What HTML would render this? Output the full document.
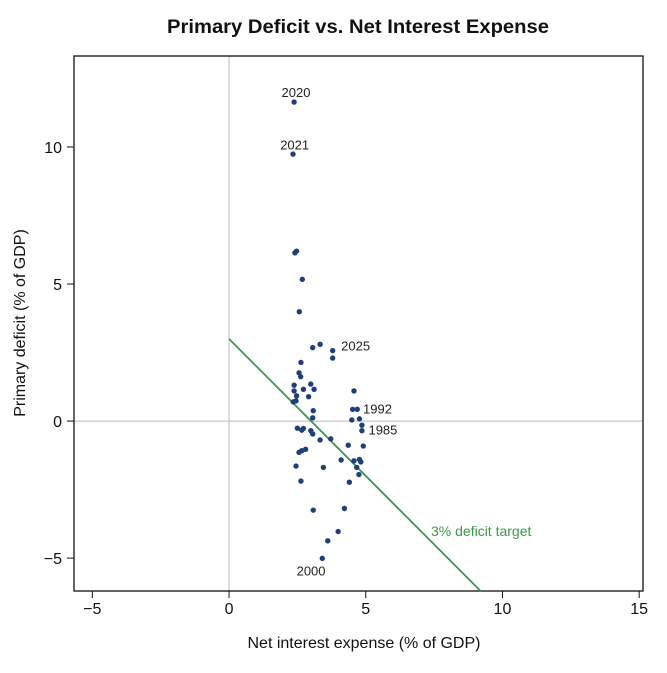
<!DOCTYPE html>
<html><head><meta charset="utf-8"><style>
body{margin:0;background:#fff;}
svg{display:block;font-family:"Liberation Sans",sans-serif;}
</style></head><body>
<svg id="chart" width="667" height="673">
<text x="167" y="33" textLength="382" lengthAdjust="spacingAndGlyphs" font-size="19" font-weight="bold" fill="#111">Primary Deficit vs. Net Interest Expense</text>
<g id="axes"></g>
<g id="marks"></g>
</svg>
<script>
const xs=[2.38,2.34,2.41,2.47,2.68,2.57,3.06,3.33,3.79,3.79,2.63,2.56,2.62,2.38,2.99,2.38,2.72,3.11,2.47,2.91,2.35,2.45,4.57,3.08,4.52,4.69,3.06,4.49,4.77,4.86,4.86,2.5,2.66,2.72,2.99,3.06,3.33,3.72,4.36,4.91,2.56,2.66,2.8,2.45,3.45,4.1,4.57,4.77,4.82,4.67,4.75,4.4,2.63,3.08,4.22,3.99,3.61,3.41];
const ys=[11.64,9.74,6.14,6.2,5.17,3.99,2.68,2.8,2.57,2.3,2.14,1.76,1.62,1.31,1.35,1.1,1.16,1.16,0.92,0.89,0.7,0.74,1.1,0.38,0.43,0.43,0.12,0.04,0.08,-0.15,-0.35,-0.26,-0.33,-0.27,-0.35,-0.47,-0.69,-0.65,-0.88,-0.91,-1.14,-1.08,-1.03,-1.64,-1.69,-1.42,-1.45,-1.4,-1.49,-1.69,-1.95,-2.23,-2.19,-3.25,-3.19,-4.03,-4.37,-5.01];
const labelTexts=["2020","2021","2025","1992","1985","2000"];
const labelX=[2.45,2.4,4.1,4.9,5.1,3.0];
const labelY=[12.0,10.1,2.75,0.45,-0.3,-5.45];
const xTicks=[-5,0,5,10,15];
const yTicks=[-5,0,5,10];
const targetLine=[[0,3],[9.2,-6.2]];
const L=74,R=643,T=56,B=591;
const X0=-5.67,X1=15.14,Y0=-6.2,Y1=13.32;
const sx=v=>L+(v-X0)/(X1-X0)*(R-L);
const sy=v=>B-(v-Y0)/(Y1-Y0)*(B-T);
const NS="http://www.w3.org/2000/svg";
function mk(t,a,p){const e=document.createElementNS(NS,t);for(const k in a)e.setAttribute(k,a[k]);p.appendChild(e);return e;}
const ax=document.getElementById('axes'),mg=document.getElementById('marks');
let e;
e=mk('line',{x1:sx(0),x2:sx(0),y1:T,y2:B,stroke:'#bbb','stroke-width':1},ax);


e=mk('line',{x1:L,x2:R,y1:sy(0),y2:sy(0),stroke:'#bbb','stroke-width':1},ax);


e=mk('rect',{x:L,y:T,width:R-L,height:B-T,fill:'none',stroke:'#111','stroke-width':1.3},ax);


xTicks.forEach(v=>{
 e=mk('line',{x1:sx(v),x2:sx(v),y1:B,y2:B+7,stroke:'#111'},ax);
 
 
 e=mk('text',{x:sx(v),y:B+23,'text-anchor':'middle','font-size':16,fill:'#111'},ax);
 e.textContent=v<0?'\u2212'+(-v):v;
 
 
});
yTicks.forEach(v=>{
 e=mk('line',{x1:L-7,x2:L,y1:sy(v),y2:sy(v),stroke:'#111'},ax);
 
 
 e=mk('text',{x:L-12,y:sy(v)+6,'text-anchor':'end','font-size':16,fill:'#111'},ax);
 e.textContent=v<0?'\u2212'+(-v):v;
 
 
});
e=mk('text',{x:364,y:648,'text-anchor':'middle','font-size':16,fill:'#111'},ax);
e.textContent='Net interest expense (% of GDP)';


e=mk('text',{x:25,y:323,'text-anchor':'middle','font-size':16,fill:'#111',transform:'rotate(-90 25 323)'},ax);
e.textContent='Primary deficit (% of GDP)';


e=mk('line',{x1:sx(targetLine[0][0]),y1:sy(targetLine[0][1]),x2:sx(targetLine[1][0]),y2:sy(targetLine[1][1]),stroke:'#3a9a4a','stroke-width':1.8},mg);


e=mk('text',{x:431,y:536,'font-size':14,fill:'#3a9a4a'},mg);
e.textContent='3% deficit target';


xs.forEach((v,i)=>{
 e=mk('circle',{cx:sx(v),cy:sy(ys[i]),r:2.7,fill:'#1f3f7a'},mg);
 
 
});
labelTexts.forEach((t,i)=>{
 e=mk('text',{x:sx(labelX[i]),y:sy(labelY[i])+5,'text-anchor':i>=2&&i<=4?'start':'middle','font-size':13,fill:'#222'},mg);
 e.textContent=t;
 
 
});
</script>
</body></html>
